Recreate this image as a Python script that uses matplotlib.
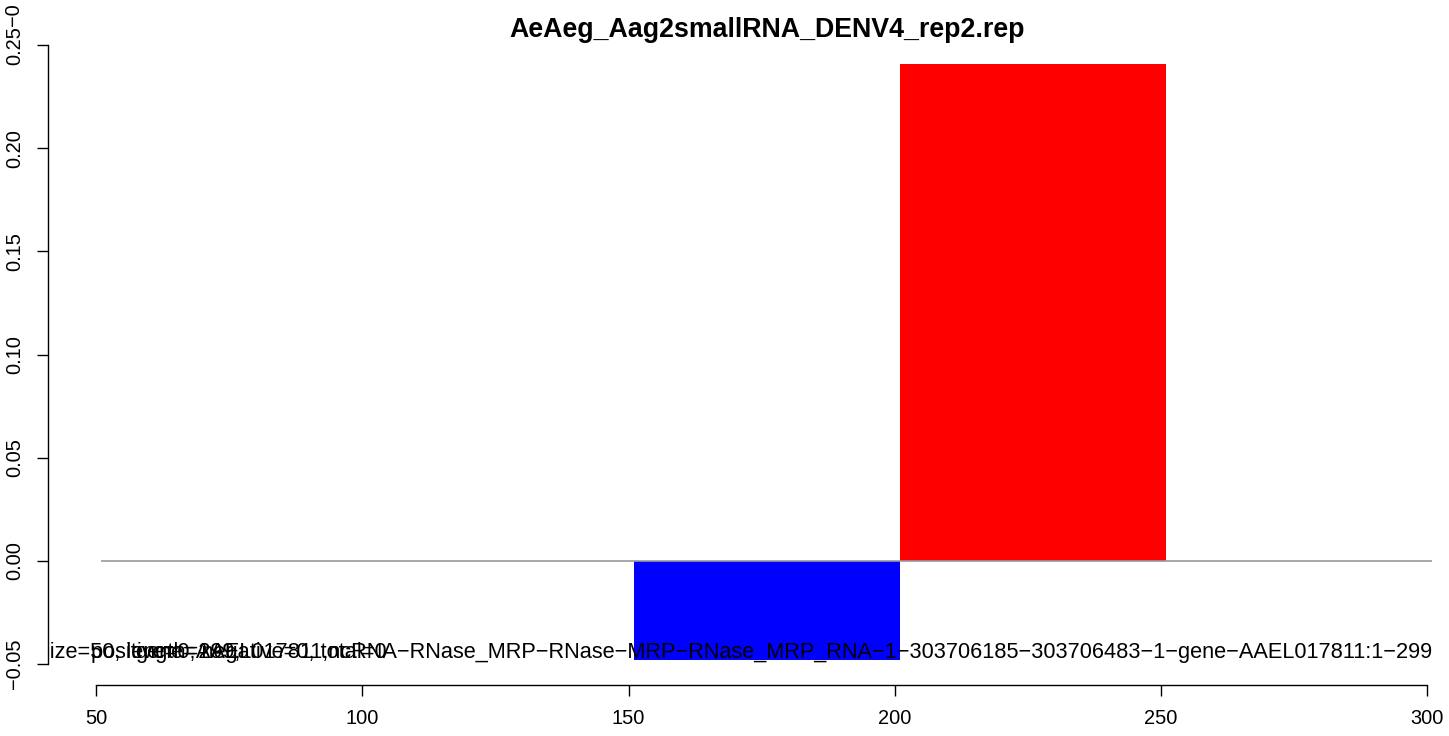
import matplotlib.pyplot as plt

plt.rcParams['font.family'] = ['Liberation Sans', 'DejaVu Sans']

# bins (left edge), width, signed fraction
bin_left = [151, 201]
bin_width = 50
frac = [-0.048, 0.241]
bar_colors = ['blue', 'red']

title = 'AeAeg_Aag2smallRNA_DENV4_rep2.rep'
xticks = [50, 100, 150, 200, 250, 300]
yticks = [-0.05, 0.0, 0.05, 0.10, 0.15, 0.20, 0.25]
ylabels = ['\u22120.05', '0.00', '0.05', '0.10', '0.15', '0.20', '0.25']

txt_size = 'binsize=50, length=299,'
txt_counts = 'positive=0, negative=0, total=0'
txt_gene = ('gene=AAEL017811,ncRNA-RNase_MRP-RNase-MRP-RNase_MRP_RNA-1'
            '-303706185-303706483-1-gene-AAEL017811:1-299').replace('-', '\u2212')

W, H = 1449, 736
fig = plt.figure(figsize=(W / 100, H / 100), dpi=100)
ax = fig.add_axes([48 / W, (H - 685) / H, (W - 48) / W, (685 - 30) / H])

ax.hlines(0, 51, 301, color='#999999', lw=1.2, zorder=3)
for x0, v, c in zip(bin_left, frac, bar_colors):
    ax.bar(x0, v, width=bin_width, align='edge', color=c, zorder=2)

ax.set_xlim(40.97, 304.1)
ax.set_ylim(-0.0601, 0.2573)

for s in ['top', 'right']:
    ax.spines[s].set_visible(False)
ax.spines['left'].set_bounds(-0.05, 0.25)
ax.spines['bottom'].set_bounds(50, 300)
for s in ['left', 'bottom']:
    ax.spines[s].set_linewidth(1.0)

ax.set_xticks(xticks)
ax.set_xticklabels([str(t) for t in xticks])
ax.set_yticks(yticks)
ax.set_yticklabels(ylabels, rotation=90, va='center')
ax.tick_params(axis='both', length=8, width=1.0, labelsize=14.4)
ax.tick_params(axis='x', pad=9)
ax.tick_params(axis='y', pad=9)

# overlapping annotation texts at the bottom, clipped to the plot area
ax.text(33.8, -0.0445, txt_size, ha='left', va='center', fontsize=15.7, zorder=4, clip_on=True)
ax.text(49.1, -0.0445, txt_counts, ha='left', va='center', fontsize=15.7, zorder=4, clip_on=True)
ax.text(300.9, -0.0445, txt_gene, ha='right', va='center', fontsize=15.7, zorder=4, clip_on=True)

fig.text(767 / W, 1 - 30 / H, title, ha='center', va='center', fontsize=19.3, fontweight='bold')
fig.text(14 / W, 1 - 26 / H, '\u22120', rotation=90, ha='center', va='bottom', fontsize=14.4)

fig.savefig('out.png', dpi=100)
